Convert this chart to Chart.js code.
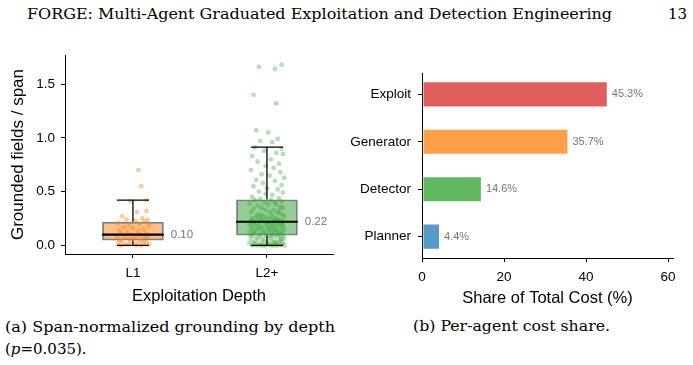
<!DOCTYPE html>
<html lang="en">
  <head>
    <meta charset="UTF-8" />
    <title>FORGE figure 13</title>
    <style>
      body {
        margin: 0;
        width: 693px;
        height: 365px;
        background: #fff;
        position: relative;
        overflow: hidden;
        font-family: "Liberation Sans", Arial, sans-serif;
      }
      .serif {
        position: absolute;
        font-family: "DejaVu Serif", serif;
        color: #000;
        white-space: nowrap;
        transform-origin: left center;
        line-height: 1;
      }
      #head { left: 27px; top: 7px; font-size: 15px; }
      #pageNo { left: 668px; top: 7px; font-size: 15px; }
      #capA1 { left: 5px; top: 320px; font-size: 15px; }
      #capA2 { left: 5px; top: 342px; font-size: 15px; }
      #capB { left: 413px; top: 319px; font-size: 15px; }
      canvas { position: absolute; }
      #depthChart { left: 0; top: 40px; }
      #costChart { left: 340px; top: 40px; }
    </style>
  </head>
  <body>
    <div class="serif" id="head">FORGE: Multi-Agent Graduated Exploitation and Detection Engineering</div>
    <div class="serif" id="pageNo">13</div>
    <canvas id="depthChart" width="340" height="275"></canvas>
    <canvas id="costChart" width="353" height="275"></canvas>
    <div class="serif" id="capA1">(a) Span-normalized grounding by depth</div>
    <div class="serif" id="capA2">(<i>p</i>=0.035).</div>
    <div class="serif" id="capB">(b) Per-agent cost share.</div>

    <script src="https://cdn.jsdelivr.net/npm/chart.js"></script>
    <script>
      // (a) span-normalized grounding, box stats + jittered points
      const depthLabels = ["L1", "L2+"];
      const depthTicks = [0, 0.5, 1.0, 1.5];
      const boxQ1 = [0.046, 0.093];
      const boxMedian = [0.1, 0.22];
      const boxQ3 = [0.22, 0.426];
      const whiskerLow = [0.0, 0.0];
      const whiskerHigh = [0.42, 0.914];

      const l1Values = [
        0.70, 0.55, 0.42, 0.41, 0.32, 0.31, 0.27, 0.25, 0.24, 0.24,
        0.23, 0.22, 0.21, 0.20, 0.19, 0.18, 0.17, 0.16, 0.15, 0.14,
        0.13, 0.12, 0.11, 0.11, 0.10, 0.10, 0.09, 0.08, 0.08, 0.07,
        0.07, 0.06, 0.06, 0.05, 0.05, 0.04, 0.04, 0.03, 0.03, 0.02,
        0.02, 0.02, 0.01, 0.01, 0.01, 0.00, 0.00, 0.00,
      ];
      const l1Jitter = [
        0.04, 0.06, 0.10, -0.02, 0.10, 0.03, -0.08, 0.07, 0.11, -0.05,
        0.02, 0.09, -0.11, 0.05, -0.03, 0.12, -0.07, 0.00, 0.08, -0.10,
        0.04, -0.04, 0.10, -0.09, 0.06, -0.01, 0.03, -0.12, 0.09, -0.06,
        0.11, -0.03, 0.01, -0.10, 0.07, 0.05, -0.08, 0.10, -0.02, -0.11,
        0.03, 0.08, -0.06, 0.12, -0.04, 0.02, -0.09, 0.06,
      ];

      const l2Values = [
        1.68, 1.66, 1.64, 1.40, 1.32, 1.07, 1.05, 0.99, 0.97, 0.96,
        0.91, 0.90, 0.88, 0.86, 0.85, 0.83, 0.80, 0.78, 0.76, 0.74,
        0.72, 0.70, 0.68, 0.66, 0.65, 0.63, 0.61, 0.60, 0.58, 0.56,
        0.55, 0.53, 0.52, 0.50, 0.49, 0.48, 0.47, 0.45, 0.44, 0.43,
        0.42, 0.42, 0.41, 0.40, 0.40, 0.39, 0.38, 0.38, 0.37, 0.36,
        0.35, 0.35, 0.34, 0.33, 0.33, 0.32, 0.31, 0.31, 0.30, 0.29,
        0.29, 0.28, 0.28, 0.27, 0.27, 0.26, 0.26, 0.25, 0.25, 0.25,
        0.24, 0.24, 0.24, 0.23, 0.23, 0.23, 0.23, 0.22, 0.22, 0.22,
        0.22, 0.21, 0.21, 0.21, 0.20, 0.20, 0.20, 0.19, 0.19, 0.19,
        0.18, 0.18, 0.18, 0.17, 0.17, 0.17, 0.16, 0.16, 0.16, 0.15,
        0.15, 0.15, 0.14, 0.14, 0.14, 0.13, 0.13, 0.13, 0.12, 0.12,
        0.12, 0.11, 0.11, 0.11, 0.10, 0.10, 0.10, 0.10, 0.09, 0.09,
        0.09, 0.09, 0.08, 0.08, 0.08, 0.07, 0.07, 0.07, 0.06, 0.06,
        0.06, 0.05, 0.05, 0.05, 0.04, 0.04, 0.04, 0.03, 0.03, 0.03,
        0.03, 0.02, 0.02, 0.02, 0.02, 0.01, 0.01, 0.01, 0.01, 0.01,
        0.00, 0.00, 0.00, 0.00, 0.00, 0.00, 0.00, 0.00, 0.00, 0.00,
      ];
      const l2Jitter = [
        0.11, -0.06, 0.06, -0.10, 0.07, -0.08, 0.01, 0.08, -0.05, 0.04,
        -0.09, 0.11, -0.02, 0.07, 0.12, -0.11, 0.03, -0.07, 0.09, -0.01,
        0.05, -0.12, 0.10, -0.04, 0.02, 0.13, -0.08, 0.06, -0.03, 0.11,
        -0.10, 0.00, 0.08, -0.06, 0.12, -0.01, 0.04, -0.11, 0.09, -0.05,
        0.03, -0.09, 0.11, -0.02, 0.06, -0.13, 0.07, 0.01, -0.07, 0.10,
        -0.04, 0.12, -0.10, 0.05, -0.01, 0.09, -0.12, 0.02, 0.08, -0.06,
        0.11, -0.03, 0.04, -0.08, 0.13, -0.05, 0.00, 0.07, -0.11, 0.03,
        -0.07, 0.10, -0.02, 0.06, -0.12, 0.08, -0.04, 0.12, 0.01, -0.09,
        0.05, -0.10, 0.09, -0.01, 0.03, -0.06, 0.11, -0.13, 0.07, 0.00,
        -0.08, 0.04, 0.12, -0.03, 0.10, -0.11, 0.02, 0.06, -0.05, 0.13,
        0.01, -0.07, 0.08, -0.12, 0.05, 0.11, -0.02, -0.09, 0.03, 0.07,
        -0.04, 0.09, -0.10, 0.00, 0.12, -0.06, 0.04, -0.13, 0.10, -0.01,
        0.06, -0.11, 0.02, 0.08, -0.05, 0.13, -0.08, 0.03, -0.03, 0.11,
        -0.12, 0.05, 0.10, -0.07, 0.01, -0.02, 0.09, -0.10, 0.07, 0.04,
        0.12, -0.04, -0.09, 0.06, -0.13, 0.02, 0.11, -0.06, 0.00, 0.08,
        -0.03, 0.10, -0.11, 0.05, 0.03, -0.08, 0.13, -0.01, 0.07, -0.05,
      ];

      // (b) per-agent cost share
      const agents = ["Exploit", "Generator", "Detector", "Planner"];
      const costShare = [45.3, 35.7, 14.6, 4.4];
      const costTicks = [0, 20, 40, 60];

      const boxFill = ["rgba(255,127,14,0.5)", "rgba(44,160,44,0.5)"];
      const agentColors = [
        "rgba(214,39,40,0.75)",
        "rgba(255,127,14,0.75)",
        "rgba(44,160,44,0.75)",
        "rgba(31,119,180,0.75)",
      ];

      const tickFont = { family: "Liberation Sans", size: 13.5 };
      const titleFont = { family: "Liberation Sans", size: 16.5 };
      const blackGrid = {
        display: true,
        drawOnChartArea: false,
        drawTicks: true,
        tickLength: 4,
        color: "#000",
        offset: false,
      };
      const blackBorder = { display: true, color: "#000", width: 1 };

      const boxLines = {
        id: "boxLines",
        afterDatasetsDraw(chart) {
          const { ctx } = chart;
          const x = chart.scales.x;
          const y = chart.scales.y;
          ctx.save();
          ctx.strokeStyle = "#000";
          boxMedian.forEach((m, i) => {
            const cx = x.getPixelForValue(i);
            const capHalf = x.getPixelForValue(i + 0.12) - cx;
            const boxHalf = x.getPixelForValue(i + 0.23) - cx;
            const yHi = y.getPixelForValue(whiskerHigh[i]);
            const yLo = y.getPixelForValue(whiskerLow[i]);
            ctx.lineWidth = 1.3;
            ctx.beginPath();
            ctx.moveTo(cx, y.getPixelForValue(boxQ3[i]));
            ctx.lineTo(cx, yHi);
            ctx.moveTo(cx, y.getPixelForValue(boxQ1[i]));
            ctx.lineTo(cx, yLo);
            ctx.moveTo(cx - capHalf, yHi);
            ctx.lineTo(cx + capHalf, yHi);
            ctx.moveTo(cx - capHalf, yLo);
            ctx.lineTo(cx + capHalf, yLo);
            ctx.stroke();
            const ym = y.getPixelForValue(m);
            ctx.lineWidth = 2.2;
            ctx.beginPath();
            ctx.moveTo(cx - boxHalf, ym);
            ctx.lineTo(cx + boxHalf, ym);
            ctx.stroke();
            ctx.fillStyle = "#777";
            ctx.font = "11.5px 'Liberation Sans'";
            ctx.textAlign = "left";
            ctx.textBaseline = "middle";
            ctx.fillText(m.toFixed(2), cx + boxHalf + 7, ym);
          });
          ctx.restore();
        },
      };

      new Chart(document.getElementById("depthChart"), {
        type: "bar",
        data: {
          datasets: [
            {
              type: "scatter",
              data: l1Values.map((v, i) => ({ x: 0 + l1Jitter[i], y: v })),
              backgroundColor: "rgba(255,127,14,0.42)",
              borderWidth: 0,
              pointRadius: 2.4,
              order: 1,
            },
            {
              type: "scatter",
              data: l2Values.map((v, i) => ({ x: 1 + l2Jitter[i], y: v })),
              backgroundColor: "rgba(44,160,44,0.35)",
              borderWidth: 0,
              pointRadius: 2.4,
              order: 2,
            },
            {
              type: "bar",
              data: depthLabels.map((d, i) => ({ x: i, y: [boxQ1[i], boxQ3[i]] })),
              backgroundColor: boxFill,
              borderColor: "#808080",
              borderWidth: 2,
              borderSkipped: false,
              categoryPercentage: 1,
              barPercentage: 0.46,
              order: 3,
            },
          ],
        },
        options: {
          responsive: false,
          animation: false,
          devicePixelRatio: 1,
          events: [],
          layout: { padding: { top: 15, right: 7, left: 0, bottom: 0 } },
          plugins: { legend: { display: false }, tooltip: { enabled: false } },
          scales: {
            x: {
              type: "linear",
              min: -0.507,
              max: 1.493,
              offset: false,
              afterBuildTicks: (s) => { s.ticks = depthLabels.map((d, i) => ({ value: i })); },
              afterFit: (s) => { s.height = 61; },
              ticks: { callback: (v) => depthLabels[v], font: tickFont, color: "#000", padding: 7, maxRotation: 0 },
              grid: blackGrid,
              border: blackBorder,
              title: { display: true, text: "Exploitation Depth", font: titleFont, color: "#000", padding: { top: 0, bottom: 9 } },
            },
            y: {
              type: "linear",
              min: -0.08,
              max: 1.77,
              afterBuildTicks: (s) => { s.ticks = depthTicks.map((v) => ({ value: v })); },
              afterFit: (s) => { s.width = 65; },
              ticks: { callback: (v) => v.toFixed(1), font: tickFont, color: "#000", padding: 6 },
              grid: blackGrid,
              border: blackBorder,
              title: { display: true, text: "Grounded fields / span", font: { family: "Liberation Sans", size: 17 }, color: "#000", padding: { top: 8, bottom: 0 } },
            },
          },
        },
        plugins: [boxLines],
      });

      const barLabels = {
        id: "barLabels",
        afterDatasetsDraw(chart) {
          const { ctx } = chart;
          const meta = chart.getDatasetMeta(0);
          ctx.save();
          ctx.fillStyle = "#777";
          ctx.font = "11px 'Liberation Sans'";
          ctx.textAlign = "left";
          ctx.textBaseline = "middle";
          meta.data.forEach((bar, i) => {
            ctx.fillText(costShare[i].toFixed(1) + "%", bar.x + 4, bar.y);
          });
          ctx.restore();
        },
      };

      new Chart(document.getElementById("costChart"), {
        type: "bar",
        data: {
          datasets: [
            {
              data: costShare.map((v, i) => ({ x: v, y: i })),
              backgroundColor: agentColors,
              borderColor: "rgba(255,255,255,0.5)",
              borderWidth: 1,
              borderSkipped: false,
              categoryPercentage: 1,
              barPercentage: 0.55,
            },
          ],
        },
        options: {
          indexAxis: "y",
          responsive: false,
          animation: false,
          devicePixelRatio: 1,
          events: [],
          layout: { padding: { top: 33, right: 20, left: 0, bottom: 0 } },
          plugins: { legend: { display: false }, tooltip: { enabled: false } },
          scales: {
            x: {
              type: "linear",
              min: 0,
              max: 61.2,
              afterBuildTicks: (s) => { s.ticks = costTicks.map((v) => ({ value: v })); },
              afterFit: (s) => { s.height = 57; },
              ticks: { font: tickFont, color: "#000", padding: 7, maxRotation: 0 },
              grid: blackGrid,
              border: blackBorder,
              title: { display: true, text: "Share of Total Cost (%)", font: titleFont, color: "#000", padding: { top: 0, bottom: 7 } },
            },
            y: {
              type: "linear",
              min: -0.45,
              max: 3.45,
              reverse: true,
              offset: false,
              afterBuildTicks: (s) => { s.ticks = agents.map((a, i) => ({ value: i })); },
              afterFit: (s) => { s.width = 82; },
              ticks: { callback: (v) => agents[v], font: tickFont, color: "#000", padding: 7 },
              grid: blackGrid,
              border: blackBorder,
            },
          },
        },
        plugins: [barLabels],
      });

      // stretch the serif lines to the widths they have in the figure
      function fitWidth(id, w) {
        const el = document.getElementById(id);
        const r = el.getBoundingClientRect().width;
        el.style.transform = "scaleX(" + (w / r) + ")";
      }
      fitWidth("head", 585);
      fitWidth("capA1", 330);
      fitWidth("capB", 197);
    </script>
  </body>
</html>
